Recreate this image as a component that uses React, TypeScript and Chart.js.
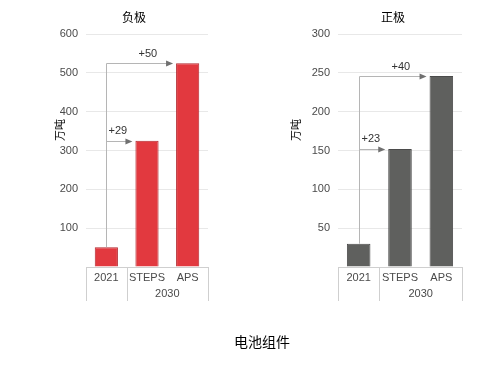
import React, { useEffect, useRef } from "react";
import { Chart, registerables } from "chart.js";
Chart.register(...registerables);

const categories = ["2021", "STEPS", "APS"];
const groupLabel = "2030";
const anodeTitle = "负极";
const cathodeTitle = "正极";
const unitLabel = "万吨";
const footerLabel = "电池组件";
const anodeValues = [51, 325, 525];
const cathodeValues = [30, 152, 246];
const anodeDeltas = ["+29", "+50"];
const cathodeDeltas = ["+23", "+40"];
const anodeMax = 600;
const anodeStep = 100;
const cathodeMax = 300;
const cathodeStep = 50;

const FONT = "'Liberation Sans', Arial, sans-serif";

function makePlugin(title: string, deltas: string[], titleX: number, unitX: number) {
  return {
    id: "decor",
    afterDatasetsDraw(chart: any) {
      const ctx = chart.ctx;
      const area = chart.chartArea;
      const x = chart.scales.x;
      const y = chart.scales.y;
      const meta = chart.getDatasetMeta(0);
      const vals = chart.data.datasets[0].data as number[];
      ctx.save();
      // title
      ctx.fillStyle = "#000";
      ctx.font = "12px 'Noto Sans CJK SC', sans-serif";
      ctx.textAlign = "center";
      ctx.textBaseline = "middle";
      ctx.fillText(title, titleX, 17);
      // unit label
      ctx.save();
      ctx.translate(unitX, 130);
      ctx.rotate(-Math.PI / 2);
      ctx.font = "11px 'Noto Sans CJK SC', sans-serif";
      ctx.fillText(unitLabel, 0, 0);
      ctx.restore();
      // x table
      const b = area.bottom;
      const half = (x.getPixelForValue(1) - x.getPixelForValue(0)) / 2;
      const div1 = x.getPixelForValue(0) + half;
      ctx.strokeStyle = "#cfcfcf";
      ctx.lineWidth = 1;
      ctx.beginPath();
      ctx.moveTo(area.left, b + 0.5);
      ctx.lineTo(area.right, b + 0.5);
      [area.left, div1, area.right].forEach((px: number) => {
        const xx = Math.round(px) + 0.5;
        ctx.moveTo(xx, b);
        ctx.lineTo(xx, b + 34);
      });
      ctx.stroke();
      ctx.fillStyle = "#4a4a4a";
      ctx.font = "11px " + FONT;
      ctx.textBaseline = "middle";
      categories.forEach((c, i) => {
        ctx.fillText(c, x.getPixelForValue(i), b + 11);
      });
      ctx.fillText(groupLabel, (x.getPixelForValue(1) + x.getPixelForValue(2)) / 2, b + 27);
      // arrows
      const bar0 = meta.data[0];
      const bar1 = meta.data[1];
      const bar2 = meta.data[2];
      const vx = Math.round(bar0.x) + 0.5;
      const y0 = y.getPixelForValue(vals[0]);
      const y1 = Math.round(y.getPixelForValue(vals[1])) + 0.5;
      const y2 = Math.round(y.getPixelForValue(vals[2])) + 0.5;
      const l1 = bar1.x - bar1.width / 2 - 3;
      const l2 = bar2.x - bar2.width / 2 - 3;
      ctx.strokeStyle = "#b5b5b5";
      ctx.beginPath();
      ctx.moveTo(vx, y0);
      ctx.lineTo(vx, y2);
      ctx.lineTo(l2 - 5, y2);
      ctx.moveTo(vx, y1);
      ctx.lineTo(l1 - 5, y1);
      ctx.stroke();
      ctx.fillStyle = "#707070";
      [[l1, y1], [l2, y2]].forEach(([ax, ay]) => {
        ctx.beginPath();
        ctx.moveTo(ax, ay);
        ctx.lineTo(ax - 7, ay - 3);
        ctx.lineTo(ax - 7, ay + 3);
        ctx.closePath();
        ctx.fill();
      });
      ctx.fillStyle = "#333";
      ctx.font = "11px " + FONT;
      ctx.textAlign = "left";
      ctx.textBaseline = "middle";
      ctx.fillText(deltas[0], vx + 2, y1 - 11);
      ctx.fillText(deltas[1], vx + 32, y2 - 10);
      ctx.restore();
    },
  };
}

function Panel(props: {
  values: number[];
  max: number;
  step: number;
  color: string;
  border: string;
  title: string;
  deltas: string[];
  left: number;
  padRight: number;
  titleX: number;
  unitX: number;
}) {
  const ref = useRef<HTMLCanvasElement>(null);
  useEffect(() => {
    if (!ref.current) return;
    const chart = new Chart(ref.current, {
      type: "bar",
      data: {
        labels: categories,
        datasets: [
          {
            data: props.values,
            backgroundColor: props.color,
            borderColor: props.border,
            borderWidth: 1,
            categoryPercentage: 1,
            barPercentage: 0.57,
          },
        ],
      },
      options: {
        responsive: false,
        animation: false,
        layout: { padding: { left: 0, top: 34, right: props.padRight, bottom: 100 } },
        plugins: { legend: { display: false }, tooltip: { enabled: false }, title: { display: false } },
        scales: {
          x: { display: false, offset: true },
          y: {
            min: 0,
            max: props.max,
            border: { display: false },
            grid: { color: "#e8e8e8", drawTicks: false, lineWidth: 1 },
            ticks: {
              stepSize: props.step,
              padding: 8,
              color: "#4a4a4a",
              font: { family: FONT, size: 11 },
              callback: (v: any) => (v === 0 ? "" : String(v)),
            },
            afterFit: (s: any) => {
              s.width = 86;
            },
          },
        },
      },
      plugins: [makePlugin(props.title, props.deltas, props.titleX, props.unitX)],
    } as any);
    return () => chart.destroy();
  }, []);
  return (
    <canvas
      ref={ref}
      width={252}
      height={367}
      style={{ position: "absolute", left: props.left, top: 0, width: 252, height: 367 }}
    />
  );
}

export default function App() {
  return (
    <div style={{ position: "fixed", left: 0, top: 0, width: 504, height: 367, background: "#fff" }}>
      <Panel
        values={anodeValues}
        max={anodeMax}
        step={anodeStep}
        color="#e2393f"
        border="#b3282e"
        title={anodeTitle}
        deltas={anodeDeltas}
        left={0}
        padRight={44}
        titleX={134}
        unitX={60}
      />
      <Panel
        values={cathodeValues}
        max={cathodeMax}
        step={cathodeStep}
        color="#5f605e"
        border="#4b4b4b"
        title={cathodeTitle}
        deltas={cathodeDeltas}
        left={252}
        padRight={42}
        titleX={141}
        unitX={44}
      />
      <div
        style={{
          position: "absolute",
          left: 0,
          width: 504,
          top: 331,
          textAlign: "center",
          fontFamily: "'Noto Sans CJK SC', sans-serif",
          fontSize: 14,
          color: "#000",
          lineHeight: "20px",
          paddingLeft: 20,
          boxSizing: "border-box",
        }}
      >
        {footerLabel}
      </div>
    </div>
  );
}
